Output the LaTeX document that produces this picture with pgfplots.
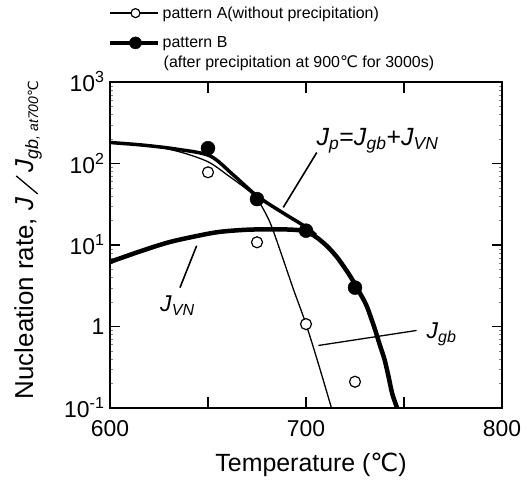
\documentclass[border=0pt]{standalone}
\usepackage{fontspec}
\setmainfont{Liberation Sans}
\newfontfamily\djv{DejaVu Sans}
\usepackage{graphicx}
\usepackage{pgfplots}
\pgfplotsset{compat=1.18}
\newcommand{\degC}{{\djv ℃}}
\newcommand{\fs}[1]{\fontsize{#1}{#1}\selectfont}

\begin{document}
\begin{tikzpicture}
\path (-110bp,-74bp) rectangle (422bp,408bp);
\begin{axis}[
  at={(0,0)}, anchor=south west,
  width=392bp, height=326bp, scale only axis,
  xmin=600, xmax=800, ymin=0.1, ymax=1000, ymode=log,
  axis line style={line width=2.2bp},
  xtick={600,650,700,750,800}, xticklabels={600,,700,,800},
  ytick={0.1,1,10,100,1000},
  yticklabels={10\textsuperscript{-1},1,10\textsuperscript{1},10\textsuperscript{2},10\textsuperscript{3}},
  minor tick num=0,
  tick align=inside, major tick length=0.35cm,
  major tick style={line width=1.8bp, draw=black},
  ticklabel style={font=\fs{23}},
  xticklabel style={yshift=-9bp},
  yticklabel style={xshift=-2bp},
  /pgf/number format/assume math mode=true,
  xlabel={Temperature (\degC)},
  xlabel style={font=\fs{25}, at={(axis description cs:0.513,-0.175)}, anchor=center},
  ylabel={Nucleation rate, \textit{J}\hspace{3bp}\raisebox{-5bp}{\rotatebox{50}{\rule{28bp}{1.3bp}}}\hspace{3bp}\textit{J}\raisebox{-5bp}{\fs{18}\textit{gb}\fs{14}\textit{, at700}\degC}},
  ylabel style={font=\fs{26}, at={(axis description cs:-0.209,0.515)}, anchor=center},
  clip=false,
  legend style={at={(axis description cs:-0.005,1.238)}, anchor=north west, draw=none, fill=none,
    font=\fs{16}, row sep=13bp, inner sep=0pt, cells={anchor=west}},
  legend cell align=left,
  legend image code/.code={\draw[mark repeat=2, mark phase=2, #1] plot coordinates {(0bp,0bp) (25bp,0bp) (48bp,0bp)};},
]
\addlegendimage{line width=1.6bp, mark=*, mark size=4.5bp, mark options={fill=white, line width=1.2bp}}
\addlegendentry{pattern A(without precipitation)}
\addlegendimage{line width=4.5bp, mark=*, mark size=6bp, mark options={fill=black, line width=0.5bp}}
\addlegendentry{pattern B}

% tick marks drawn as short segments (inward, about 10bp long)
\addplot[line width=1.8bp, draw=black, forget plot] coordinates {(650,0.1) (650,0.135)};
\addplot[line width=1.8bp, draw=black, forget plot] coordinates {(700,0.1) (700,0.135)};
\addplot[line width=1.8bp, draw=black, forget plot] coordinates {(750,0.1) (750,0.135)};
\addplot[line width=1.8bp, draw=black, forget plot] coordinates {(650,1000) (650,740)};
\addplot[line width=1.8bp, draw=black, forget plot] coordinates {(700,1000) (700,740)};
\addplot[line width=1.8bp, draw=black, forget plot] coordinates {(750,1000) (750,740)};
\addplot[line width=1.8bp, draw=black, forget plot] coordinates {(600,1) (605.2,1)};
\addplot[line width=1.8bp, draw=black, forget plot] coordinates {(600,10) (605.2,10)};
\addplot[line width=1.8bp, draw=black, forget plot] coordinates {(600,100) (605.2,100)};
\addplot[line width=1.8bp, draw=black, forget plot] coordinates {(800,1) (794.8,1)};
\addplot[line width=1.8bp, draw=black, forget plot] coordinates {(800,10) (794.8,10)};
\addplot[line width=1.8bp, draw=black, forget plot] coordinates {(800,100) (794.8,100)};

% J_gb (thin)
\addplot[line width=1.3bp, smooth, forget plot] coordinates {
 (600,178) (620,166) (636,138) (650,105) (660,72) (671.4,45) (676,34) (681.6,19)
 (687,8.3) (693.5,2.9) (700,1.07) (706.3,0.35) (713,0.1)};
% J_VN (thick)
\addplot[line width=4.5bp, smooth, forget plot] coordinates {
 (600,6.2) (615,8.3) (630,10.8) (645,13.0) (656,14.5) (670,15.4) (685,15.6) (695,15.3)
 (700,14.6) (705,12.6) (710.5,9.8) (716,7.0) (722.4,4.2) (727,2.7) (730.9,1.8) (735,0.95)
 (737.8,0.58) (740,0.40) (742,0.25) (744,0.15) (746.5,0.1)};
% J_p (thick)
\addplot[line width=3.5bp, smooth, forget plot] coordinates {
 (600,181) (617,168) (634,150) (651,124) (663,72) (675,40) (688,25) (700,16.6) (705,13.2)};

% leader lines
\addplot[line width=1.6bp, forget plot] coordinates {(705.5,136.5) (688.4,28.9)};
\addplot[line width=1.6bp, forget plot] coordinates {(644.2,9.8) (635.7,3.0)};
\addplot[line width=1.3bp, forget plot] coordinates {(706.3,0.585) (756.4,0.894)};

% pattern A (open)
\addplot[only marks, mark=*, mark size=5.5bp, mark options={fill=white, draw=black, line width=1.2bp}, forget plot]
 coordinates {(650,78) (675,10.8) (700,1.07) (725,0.21)};
% pattern B (filled)
\addplot[only marks, mark=*, mark size=7bp, mark options={fill=black, draw=black}, forget plot]
 coordinates {(650,154) (675,36.6) (700,15) (725,3.0)};

\node[anchor=base west, font=\fs{25}] at (axis cs:703.6,167)
 {\textit{J}\textsubscript{\textit{p}}=\textit{J}\textsubscript{\textit{gb}}+\textit{J}\textsubscript{\textit{VN}}};
\node[anchor=base west, font=\fs{23}] at (axis cs:623.8,1.51) {\textit{J}\textsubscript{\textit{VN}}};
\node[anchor=base west, font=\fs{23}] at (axis cs:759.7,0.707) {\textit{J}\textsubscript{\textit{gb}}};
\node[anchor=base west, font=\fs{16}] at (axis description cs:0.128,1.043) {(after precipitation at 900\degC\ for 3000s)};
\end{axis}
\end{tikzpicture}
\end{document}
